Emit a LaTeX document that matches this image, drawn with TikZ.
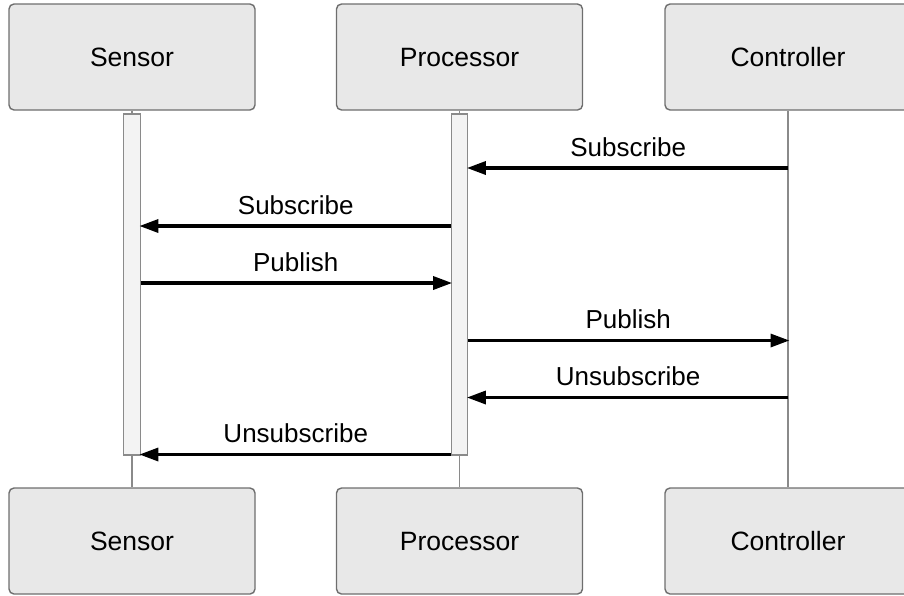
\documentclass[tikz,border=0pt]{standalone}
\usepackage{fontspec}
\setmainfont{Liberation Sans}
\usetikzlibrary{arrows.meta}
\definecolor{boxfill}{HTML}{E8E8E8}
\definecolor{boxline}{HTML}{6E6E6E}
\definecolor{barfill}{HTML}{F3F3F3}
\definecolor{lifeline}{HTML}{8A8A8A}
\tikzset{
  actor/.style={draw=boxline, line width=1.4pt, fill=boxfill, rounded corners=5pt,
    minimum width=246pt, minimum height=106pt, inner sep=0pt,
    text height=19pt, text depth=0pt,
    font=\fontsize{26.5}{31}\selectfont},
  actbar/.style={draw=lifeline, line width=1.2pt, fill=barfill,
    minimum width=16.5pt, minimum height=341pt, inner sep=0pt},
  life/.style={draw=lifeline, line width=1.3pt},
  msg/.style={draw=black, line width=3.3pt, shorten >=-1.5pt,
    -{Triangle[length=19pt, width=13pt]}},
  msglabel/.style={anchor=base, font=\fontsize{26}{31}\selectfont}
}
\begin{document}
\begin{tikzpicture}[x=1pt, y=-1pt]
  \useasboundingbox (0,0) rectangle (904,595);
  \clip (0,0) rectangle (904,595);

  % participant heads and feet
  \node[actor] (sensT) at (132,57) {Sensor};
  \node[actor] (procT) at (459.5,57) {Processor};
  \node[actor] (ctrlT) at (788,57) {Controller};
  \node[actor] (sensB) at (132,541) {Sensor};
  \node[actor] (procB) at (459.5,541) {Processor};
  \node[actor] (ctrlB) at (788,541) {Controller};

  % lifelines
  \draw[life] (sensT.south) -- (sensB.north);
  \draw[life] (procT.south) -- (procB.north);
  \draw[life] (ctrlT.south) -- (ctrlB.north);

  % activation bars
  \node[actbar] (sbar) at (132,284.5) {};
  \node[actbar] (pbar) at (459.5,284.5) {};

  % points on the controller lifeline
  \coordinate (c1) at (788,168);
  \coordinate (c4) at (788,340.5);
  \coordinate (c5) at (788,397.5);
  % message heights on the bars
  \coordinate (m2) at (0,226);
  \coordinate (m3) at (0,283);
  \coordinate (m6) at (0,454.5);

  % messages
  \draw[msg] (c1) -- (pbar.east |- c1)
    node[msglabel, midway, yshift=12pt] {Subscribe};
  \draw[msg] (pbar.west |- m2) -- (sbar.east |- m2)
    node[msglabel, midway, yshift=12pt] {Subscribe};
  \draw[msg] (sbar.east |- m3) -- (pbar.west |- m3)
    node[msglabel, midway, yshift=12pt] {Publish};
  \draw[msg] (pbar.east |- c4) -- (c4)
    node[msglabel, midway, yshift=12pt] {Publish};
  \draw[msg] (c5) -- (pbar.east |- c5)
    node[msglabel, midway, yshift=12pt] {Unsubscribe};
  \draw[msg] (pbar.west |- m6) -- (sbar.east |- m6)
    node[msglabel, midway, yshift=12pt] {Unsubscribe};
\end{tikzpicture}
\end{document}
